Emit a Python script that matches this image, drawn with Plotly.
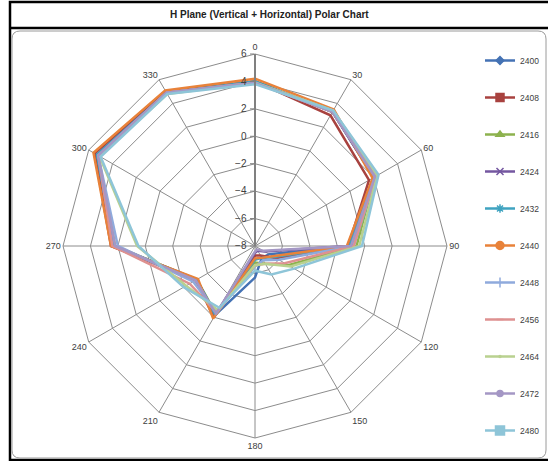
import plotly.graph_objects as go

W, H = 548, 461

angles = ["0", "30", "60", "90", "120", "150", "180", "210", "240", "270", "300", "330"]

s2400 = [4.0, 3.3, 2.0, -1.0, -6.8, -7.0, -5.7, -2.2, -3.1, 2.3, 5.3, 4.9]
s2408 = [4.0, 3.0, 1.6, -1.2, -6.2, -7.2, -7.3, -2.0, -3.0, 2.5, 5.5, 5.0]
s2416 = [4.0, 3.3, 2.1, -0.6, -5.2, -6.5, -6.8, -2.3, -3.1, 2.2, 5.2, 4.9]
s2424 = [4.0, 3.3, 2.0, -1.2, -7.2, -7.6, -7.5, -2.2, -3.1, 2.3, 5.3, 4.9]
s2432 = [4.0, 3.3, 2.1, -1.1, -6.4, -7.0, -7.0, -2.2, -3.1, 2.3, 5.3, 4.9]
s2440 = [4.2, 3.5, 1.9, -1.3, -6.5, -7.0, -7.1, -1.9, -3.2, 2.5, 5.6, 5.1]
s2448 = [3.9, 3.4, 2.2, -0.8, -6.0, -6.8, -6.5, -2.4, -2.8, 2.0, 5.2, 4.9]
s2456 = [3.9, 3.3, 2.1, -0.8, -5.5, -6.5, -6.6, -2.4, -2.5, 2.4, 5.2, 4.9]
s2464 = [3.9, 3.4, 2.3, -0.4, -5.0, -6.5, -6.6, -2.6, -2.2, 0.6, 5.1, 4.8]
s2472 = [3.9, 3.3, 2.1, -1.0, -7.3, -7.7, -7.6, -2.3, -3.0, 2.2, 5.2, 4.9]
s2480 = [3.8, 3.4, 2.4, -0.2, -4.7, -5.6, -6.2, -2.8, -2.0, 0.5, 5.0, 4.8]

series_names = ["2400", "2408", "2416", "2424", "2432", "2440",
                "2448", "2456", "2464", "2472", "2480"]
series_values = [s2400, s2408, s2416, s2424, s2432, s2440,
                 s2448, s2456, s2464, s2472, s2480]

colors = ["#4472B4", "#A8423F", "#8DB24E", "#7457A0", "#3FA3C0", "#E8823A",
          "#8FAADC", "#DE9190", "#B9D18F", "#A497C5", "#8EC5D8"]
symbols = ["diamond", "square", "triangle-up", "x-thin-open", "asterisk-open",
           "circle", "line-ns-open", "line-ew-open", "circle", "circle", "square"]
sizes = [6, 8, 7, 7, 7, 8, 7, 5, 0, 6, 9]

fig = go.Figure()
for i, (name, vals) in enumerate(zip(series_names, series_values)):
    r = vals + [vals[0]]
    th = angles + [angles[0]]
    fig.add_trace(go.Scatterpolar(
        r=r, theta=th, name=name, mode="lines+markers",
        line=dict(color=colors[i], width=2.5),
        marker=dict(symbol=symbols[i], size=sizes[i], color=colors[i],
                    line=dict(color=colors[i], width=1.5)),
        legendgroup=name,
    ))

def px(x):
    return x / W

def py(y):
    return 1 - y / H

def rounded(x0, y0, x1, y1, rad):
    X0, X1 = px(x0), px(x1)
    Y0, Y1 = py(y0), py(y1)
    rx, ry = rad / W, rad / H
    return (f"M {X0+rx},{Y0} L {X1-rx},{Y0} Q {X1},{Y0} {X1},{Y0-ry} "
            f"L {X1},{Y1+ry} Q {X1},{Y1} {X1-rx},{Y1} "
            f"L {X0+rx},{Y1} Q {X0},{Y1} {X0},{Y1+ry} "
            f"L {X0},{Y0-ry} Q {X0},{Y0} {X0+rx},{Y0} Z")

shapes = [
    dict(type="rect", xref="paper", yref="paper", x0=px(10), x1=px(556),
         y0=py(2), y1=py(460), line=dict(color="black", width=2.5)),
    dict(type="line", xref="paper", yref="paper", x0=px(10), x1=px(556),
         y0=py(28), y1=py(28), line=dict(color="black", width=2.5)),
    dict(type="path", xref="paper", yref="paper", path=rounded(12, 31, 546, 458, 8),
         line=dict(color="#9a9a9a", width=1)),
]

fig.update_layout(
    width=W, height=H,
    margin=dict(l=0, r=0, t=0, b=0, autoexpand=False),
    paper_bgcolor="white",
    font=dict(family="Liberation Sans, Arial", size=9, color="#404040"),
    showlegend=True,
    shapes=shapes,
    annotations=[dict(text="<b>H Plane (Vertical + Horizontal) Polar Chart</b>",
                      xref="paper", yref="paper", x=px(269), y=py(15),
                      showarrow=False, font=dict(size=10, color="#222222"),
                      xanchor="center", yanchor="middle")],
    polar=dict(
        domain=dict(x=[px(255 - 192), px(255 + 192)], y=[py(438), py(54)]),
        bgcolor="white",
        gridshape="linear",
        angularaxis=dict(rotation=90, direction="clockwise", type="category",
                         categoryorder="array", categoryarray=angles,
                         showline=True, linecolor="#8c8c8c", linewidth=1,
                         gridcolor="#8c8c8c", gridwidth=1,
                         ticks="", tickfont=dict(size=9, color="#404040")),
        radialaxis=dict(range=[-8, 6], dtick=2, tick0=-8, angle=90,
                        side="counterclockwise", showline=True,
                        linecolor="#808080", linewidth=2,
                        gridcolor="#8c8c8c", gridwidth=1,
                        ticks="outside", ticklen=4, tickcolor="#808080",
                        tickangle=90,
                        tickfont=dict(size=10, color="#404040")),
    ),
    legend=dict(x=px(480), y=py(46), xanchor="left", yanchor="top",
                font=dict(size=8.5, color="#404040"),
                tracegroupgap=18, itemwidth=30,
                bgcolor="rgba(0,0,0,0)"),
)

fig.write_html("out.html",
               config={"displayModeBar": False},
               post_script="document.body.style.margin='0';")
